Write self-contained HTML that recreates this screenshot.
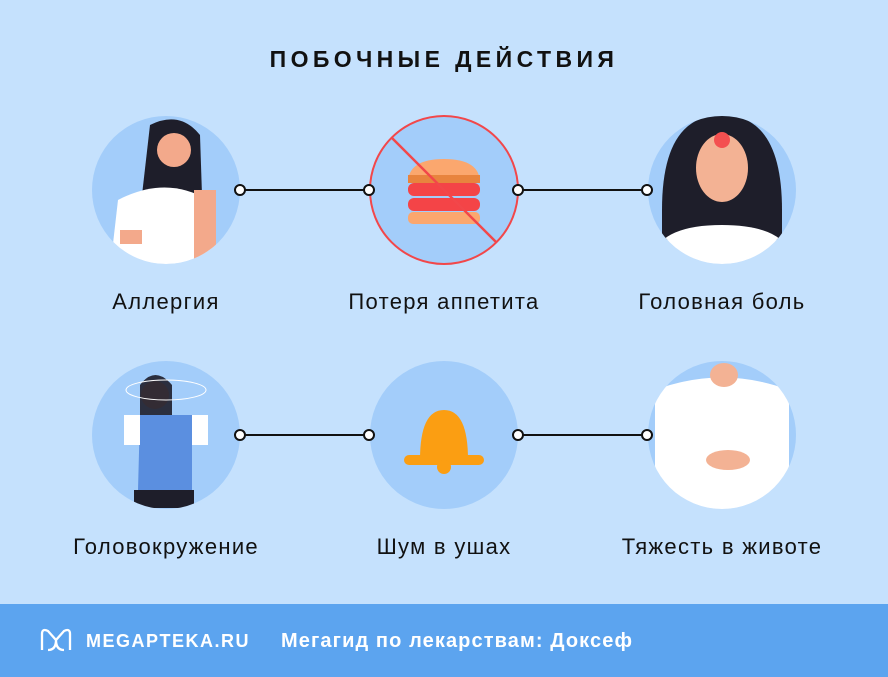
<!DOCTYPE html><html><head><meta charset="utf-8"><style>
body{margin:0;width:888px;height:677px;overflow:hidden;background:#c5e1fd;font-family:"Liberation Sans",sans-serif}
svg{position:absolute;left:0;top:0}
</style></head><body>
<svg width="888" height="677" viewBox="0 0 888 677">
<defs>
<clipPath id="c1"><circle cx="166" cy="190" r="74"/><rect x="140" y="110" width="70" height="60"/></clipPath>
<clipPath id="c3"><circle cx="722" cy="190" r="74"/></clipPath>
<clipPath id="c4"><circle cx="166" cy="435" r="74"/></clipPath>
<clipPath id="c6"><circle cx="722" cy="435" r="74"/></clipPath>
</defs>
<rect width="888" height="677" fill="#c5e1fd"/>
<text x="444" y="67" text-anchor="middle" font-size="23" font-weight="bold" letter-spacing="4.4" fill="#111">ПОБОЧНЫЕ ДЕЙСТВИЯ</text>
<g stroke="#111" stroke-width="2" fill="#fff">
<line x1="240" y1="190" x2="369" y2="190"/><line x1="518" y1="190" x2="647" y2="190"/>
<line x1="240" y1="435" x2="369" y2="435"/><line x1="518" y1="435" x2="647" y2="435"/>
</g>
<g fill="#a3cdfa">
<circle cx="166" cy="190" r="74"/><circle cx="444" cy="190" r="74"/><circle cx="722" cy="190" r="74"/>
<circle cx="166" cy="435" r="74"/><circle cx="444" cy="435" r="74"/><circle cx="722" cy="435" r="74"/>
</g>
<g clip-path="url(#c1)">
<path d="M150 125 q30-15 50 10 l2 60 l-60 0 z" fill="#1e1e2a"/>
<circle cx="174" cy="150" r="17" fill="#f3a98b"/>
<path d="M118 200 q48-25 90 0 l8 70 l-106 0 z" fill="#fff"/>
<rect x="120" y="230" width="22" height="14" fill="#f3a98b"/><rect x="194" y="190" width="22" height="70" fill="#f3a98b"/>
</g>
<path d="M408 183 q0-24 36-24 q36 0 36 24 z" fill="#fba76e"/>
<rect x="408" y="175" width="72" height="8" fill="#e8843e"/>
<rect x="408" y="183" width="72" height="13" rx="6" fill="#f44447"/>
<rect x="408" y="198" width="72" height="13" rx="6" fill="#f44447"/>
<rect x="408" y="212" width="72" height="12" rx="5" fill="#fba76e"/>
<circle cx="444" cy="190" r="74" fill="none" stroke="#f2474a" stroke-width="2"/>
<line x1="392" y1="138" x2="496" y2="242" stroke="#f2474a" stroke-width="2.5"/>
<g clip-path="url(#c3)">
<path d="M662 210 q0-95 60-95 q60 0 60 95 l0 30 l-120 0 z" fill="#1e1e2a"/>
<ellipse cx="722" cy="168" rx="26" ry="34" fill="#f3b294"/>
<circle cx="722" cy="140" r="8" fill="#f45050"/>
<path d="M650 270 q0-45 72-45 q72 0 72 45 z" fill="#fff"/>
</g>
<g clip-path="url(#c4)">
<circle cx="155" cy="395" r="14" fill="#f3a98b"/>
<path d="M140 385 q15-20 32 0 l0 30 l-32 0 z" fill="#1e1e2a" opacity=".9"/>
<path d="M140 415 l52 0 l0 75 l-54 0 z" fill="#5b8fe0"/>
<rect x="124" y="415" width="16" height="30" fill="#fff"/><rect x="192" y="415" width="16" height="30" fill="#fff"/>
<rect x="134" y="490" width="60" height="18" fill="#1e1e2a"/>
</g>
<ellipse cx="166" cy="390" rx="40" ry="10" fill="none" stroke="#fff" stroke-width="1"/>
<path d="M420 460 q0-50 24-50 q24 0 24 50 z" fill="#fb9e12"/>
<rect x="404" y="455" width="80" height="10" rx="5" fill="#fb9e12"/>
<circle cx="444" cy="467" r="7" fill="#fb9e12"/>
<g clip-path="url(#c6)">
<path d="M655 520 l0-130 q67-25 134 0 l0 130 z" fill="#fff"/>
<ellipse cx="724" cy="375" rx="14" ry="12" fill="#f3b294"/>
<ellipse cx="728" cy="460" rx="22" ry="10" fill="#f3b294"/>
</g>
<g fill="#fff" stroke="#111" stroke-width="2">
<circle cx="240" cy="190" r="5"/><circle cx="369" cy="190" r="5"/><circle cx="518" cy="190" r="5"/><circle cx="647" cy="190" r="5"/>
<circle cx="240" cy="435" r="5"/><circle cx="369" cy="435" r="5"/><circle cx="518" cy="435" r="5"/><circle cx="647" cy="435" r="5"/>
</g>
<g font-size="22" fill="#111" text-anchor="middle" letter-spacing="1.3">
<text x="166" y="309">Аллергия</text><text x="444" y="309">Потеря аппетита</text><text x="722" y="309">Головная боль</text>
<text x="166" y="554">Головокружение</text><text x="444" y="554">Шум в ушах</text><text x="722" y="554">Тяжесть в животе</text>
</g>
<rect x="0" y="604" width="888" height="73" fill="#5ca4ef"/>
<path d="M42 650 l0-16 q0-6 6-3 l8 9 l8-9 q6-3 6 3 l0 16 M48 650 q8 0 8-10 q0 10 8 10" fill="none" stroke="#fff" stroke-width="2.3"/>
<text x="86" y="647" font-size="18" font-weight="bold" fill="#fff" letter-spacing="1.5">MEGAPTEKA.RU</text>
<text x="281" y="647" font-size="20" font-weight="bold" fill="#fff" letter-spacing="1.1">Мегагид по лекарствам: Доксеф</text>
</svg>
</body></html>
